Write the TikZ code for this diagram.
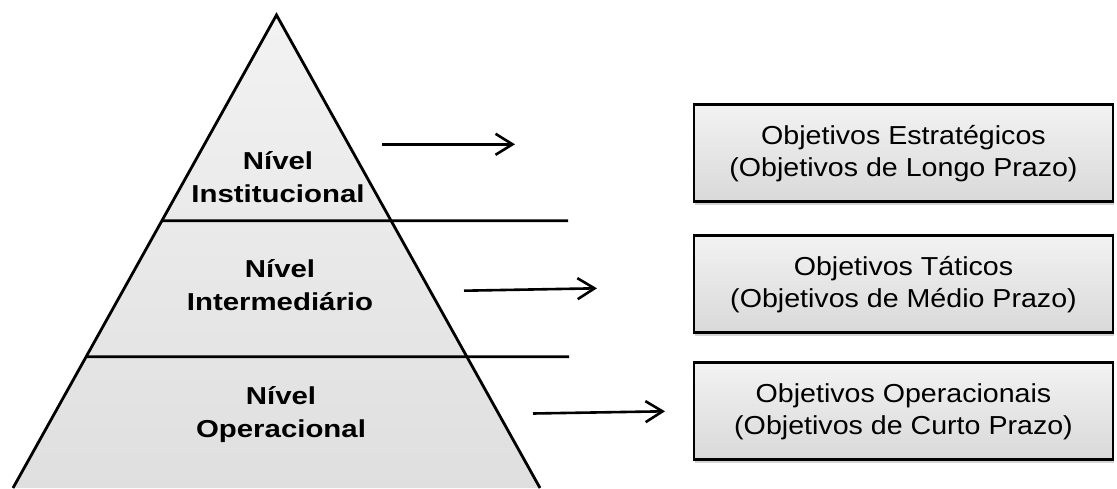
\documentclass[tikz,border=0pt]{standalone}
\usepackage{fontspec}
\setmainfont{Liberation Sans}
\newfontfamily\boxfont[FakeStretch=1.1]{Liberation Sans}
\newfontfamily\levelfont[FakeStretch=1.2]{Liberation Sans}
\usepackage{tikz}
\usetikzlibrary{arrows.meta,calc,shadows}
\tikzset{levellabel/.style={align=center,font=\levelfont\bfseries\fontsize{24.5}{33}\selectfont},
    objbox/.style={draw=black,line width=2.8pt,top color=gray!10,bottom color=gray!30,
        minimum width=419pt,minimum height=97pt,inner sep=0,align=center,
        font=\boxfont\fontsize{26}{32}\selectfont,
        drop shadow={shadow xshift=1pt,shadow yshift=-3pt,opacity=0.35}},
    divider/.style={line width=2.6pt},
    levelarrow/.style={line width=2.6pt,-{Straight Barb[length=17pt,width=21pt]}}
}

\begin{document}
\begin{tikzpicture}[x=1pt,y=-1pt]

\useasboundingbox (0,0) rectangle (1117,488);

\coordinate (top) at (276.5,15);
\coordinate (base l) at (13,488);
\coordinate (base r) at (540,488);

\shade [top color=gray!10,bottom color=gray!25] (top) -- (base l) -- (base r) -- cycle;

\coordinate (d 1) at ($(top)!0.4349!(base l)$);
\coordinate (d 1 end) at (568,220.7);
\coordinate (d 2) at ($(top)!0.7224!(base l)$);
\coordinate (d 2 end) at (569,356.7);

\draw [divider] (d 1) -- (d 1 end);
\draw [divider] (d 2) -- (d 2 end);
\draw [line width=2.8pt,line join=miter] (base l) -- (top) -- (base r);

\node (l 1) [levellabel] at (278,177) {Nível\\Institucional};
\node (l 2) [levellabel] at (280,285) {Nível\\Intermediário};
\node (l 3) [levellabel] at (281,415) {Nível\\Operacional};

\node (o 1) [objbox] at (903.5,153.3) {Objetivos Estratégicos\\(Objetivos de Longo Prazo)};
\node (o 2) [objbox] at (903.5,284.2) {Objetivos Táticos\\(Objetivos de Médio Prazo)};
\node (o 3) [objbox] at (903.5,411.3) {Objetivos Operacionais\\(Objetivos de Curto Prazo)};

\coordinate (a 1 from) at (382,144.3);
\coordinate (a 1 to) at (515,144.3);
\coordinate (a 2 from) at (464,290.7);
\coordinate (a 2 to) at (597,288.3);
\coordinate (a 3 from) at (533,413.5);
\coordinate (a 3 to) at (665,411.3);

\draw [levelarrow] (a 1 from) -- (a 1 to);
\draw [levelarrow] (a 2 from) -- (a 2 to);
\draw [levelarrow] (a 3 from) -- (a 3 to);

\end{tikzpicture}
\end{document}
